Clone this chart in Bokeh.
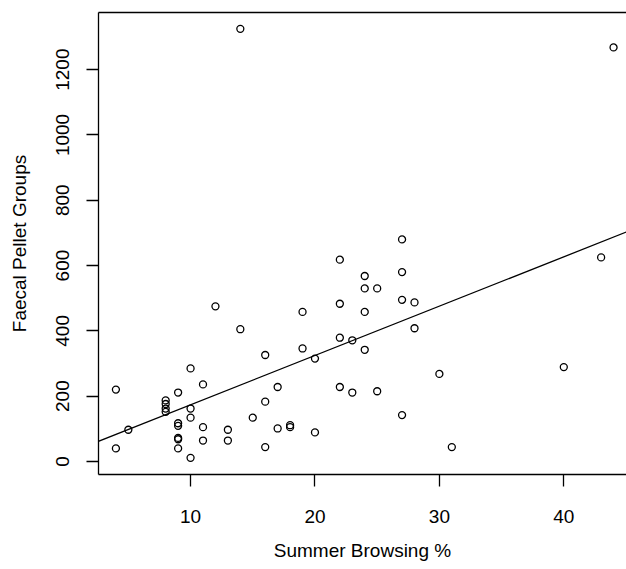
from bokeh.plotting import figure
from bokeh.models import Range1d, LinearAxis, FixedTicker, Slope
from bokeh.embed import file_html
from bokeh.resources import INLINE
import numpy as np

# Summer browsing (%) and faecal pellet groups
browsing = [4, 4, 5,
            8, 8, 8, 8,
            9, 9, 9, 9, 9, 9,
            10, 10, 10, 10,
            11, 11, 11,
            12,
            13, 13,
            14, 14,
            15,
            16, 16, 16,
            17, 17,
            18, 18,
            19, 19,
            20, 20,
            22, 22, 22, 22,
            23, 23,
            24, 24, 24, 24,
            25, 25,
            27, 27, 27, 27,
            28, 28,
            30, 31, 40, 43, 44]
pellets = [220, 40, 97,
           187, 176, 162, 152,
           211, 117, 109, 72, 68, 40,
           285, 162, 134, 11,
           236, 105, 64,
           475,
           97, 64,
           1325, 405,
           134,
           326, 183, 44,
           228, 101,
           111, 105,
           458, 346,
           315, 89,
           618, 483, 379, 228,
           371, 211,
           568, 530, 458, 342,
           530, 215,
           680, 580, 495, 142,
           487, 408,
           268, 44, 289, 625, 1268]

x_ticks = [10, 20, 30, 40]
y_ticks = [0, 200, 400, 600, 800, 1000, 1200]

FONT = "Liberation Sans"

p = figure(width=626, height=569, output_backend="svg", toolbar_location=None,
           x_range=Range1d(2.6, 45.04), y_range=Range1d(-40, 1375),
           min_border_left=98, min_border_right=0, min_border_top=12,
           min_border_bottom=95)
p.grid.visible = False
p.outline_line_color = None
p.background_fill_color = "white"
p.border_fill_color = "white"

p.xaxis.ticker = FixedTicker(ticks=x_ticks)
p.yaxis.ticker = FixedTicker(ticks=y_ticks)
p.xaxis.axis_label = "Summer Browsing %"
p.yaxis.axis_label = "Faecal Pellet Groups"
p.yaxis.major_label_orientation = "vertical"

for ax in (p.xaxis[0], p.yaxis[0]):
    ax.axis_line_width = 1.3
    ax.axis_line_color = "black"
    ax.major_tick_in = 0
    ax.major_tick_out = 12
    ax.major_tick_line_width = 1.3
    ax.major_tick_line_color = "black"
    ax.minor_tick_line_color = None
    ax.major_label_text_font = FONT
    ax.major_label_text_font_size = "19px"
    ax.major_label_text_color = "black"
    ax.axis_label_text_font = FONT
    ax.axis_label_text_font_size = "19px"
    ax.axis_label_text_font_style = "normal"
    ax.axis_label_text_color = "black"

p.xaxis.major_label_standoff = 23
p.xaxis.axis_label_standoff = 14
p.yaxis.major_label_standoff = 17
p.yaxis.axis_label_standoff = 24

top = LinearAxis(ticker=FixedTicker(ticks=[]), major_tick_in=0, major_tick_out=0,
                 minor_tick_in=0, minor_tick_out=0, major_label_standoff=0,
                 major_label_text_font_size="0px", axis_line_width=1.3,
                 axis_line_color="black")
p.add_layout(top, "above")

slope, intercept = np.polyfit(browsing, pellets, 1)
p.add_layout(Slope(gradient=slope, y_intercept=intercept, line_color="black",
                   line_width=1.3))

p.scatter(browsing, pellets, marker="circle", size=7, fill_color=None,
          line_color="black", line_width=1.3)

open("out.html", "w").write(file_html(p, INLINE))
